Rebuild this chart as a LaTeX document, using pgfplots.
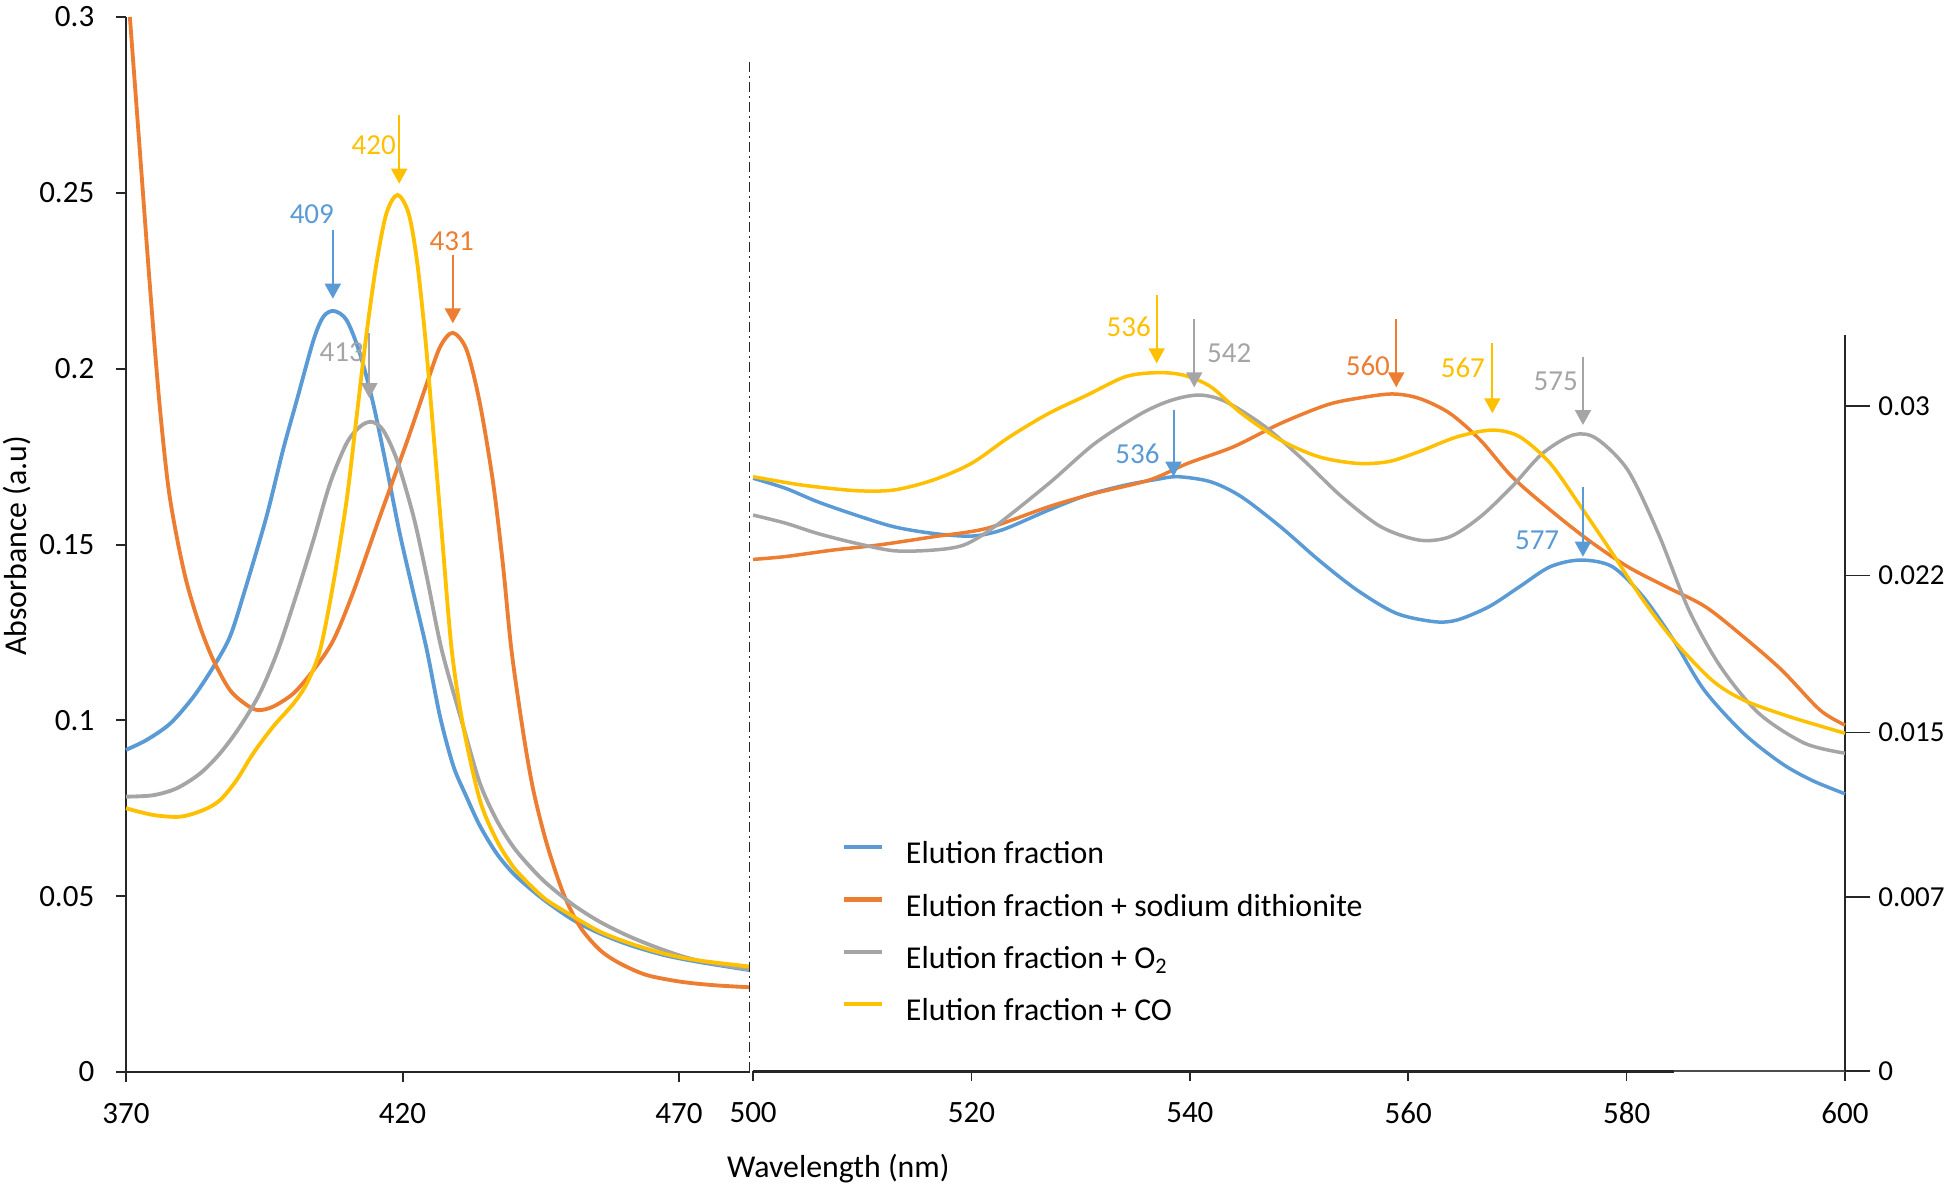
\documentclass[border=0pt]{standalone}
\usepackage{fontspec}
\setmainfont{Carlito}
\usepackage{pgfplots}
\pgfplotsset{compat=1.18}
\usetikzlibrary{arrows.meta}
\definecolor{cblue}{RGB}{91,155,213}
\definecolor{corange}{RGB}{237,125,49}
\definecolor{cgray}{RGB}{165,165,165}
\definecolor{cyellow}{RGB}{255,192,0}
\newcommand{\fs}{\fontsize{9.3}{11}\selectfont}
\newcommand{\fl}{\fontsize{9.55}{11}\selectfont}
\newcommand{\fa}{\fontsize{8.7}{10}\selectfont}
\tikzset{pk/.style={-{Triangle[width=4.8pt,length=4.5pt]}, line width=0.6pt}}
\begin{document}
\begin{tikzpicture}
\useasboundingbox (-37.8pt,-35.4pt) rectangle (547.2pt,321.6pt);
\pgfplotsset{every axis/.append style={font=\fs},
  /pgf/number format/assume math mode=true}
% ---------------- left panel ----------------
\begin{axis}[name=L, at={(0pt,0pt)}, anchor=south west, scale only axis,
  width=187.05pt, height=316.5pt,
  xmin=370, xmax=482.75, ymin=0, ymax=0.3,
  axis x line=bottom, axis y line=left,
  axis line style={-, line width=0.6pt, black!85},
  tick align=outside, major tick length=3pt,
  tick style={line width=0.6pt, black!85},
  xtick={370,420,470}, xticklabels={370,420,470},
  ytick={0,0.05,0.1,0.15,0.2,0.25,0.3},
  yticklabels={0,0.05,0.1,0.15,0.2,0.25,0.3},
  xticklabel style={yshift=-3pt}, yticklabel style={xshift=-3pt},
  clip=false]
\addplot[cblue, line width=1.15pt, smooth] coordinates {
(370,0.0916) (373.7,0.0944) (378,0.0991) (382.2,0.1067) (385.8,0.1152) (388.8,0.1238)
(391.5,0.137) (395.4,0.1579) (398.4,0.1769) (400.9,0.1911) (403.9,0.2081) (405.7,0.2148)
(407.6,0.2164) (409.9,0.2138) (412.3,0.2043) (414.7,0.1901) (417.1,0.1721) (419.5,0.1532)
(422,0.1361) (424.4,0.12) (426.8,0.101) (429.2,0.087) (431.5,0.0785) (434,0.0700)
(437,0.0622) (440,0.0565) (443.05,0.0522) (446.07,0.0484) (450.9,0.0432) (455.7,0.0394)
(461.1,0.0361) (467.2,0.0333) (473.2,0.0314) (482.7,0.0290)};
\addplot[corange, line width=1.15pt, smooth] coordinates {
(370.7,0.3) (372.5,0.262) (374.3,0.224) (376.0,0.191) (377.6,0.167) (379.2,0.152)
(381.0,0.139) (383.4,0.1266)
(385.8,0.1171) (388.8,0.1086) (391.8,0.1044) (393.9,0.1029) (396.6,0.1039) (400.3,0.1077)
(403.9,0.1143) (407.5,0.1228) (411.1,0.1365) (415.9,0.1579) (420.7,0.1788) (424.4,0.1958)
(426.8,0.2062) (429.1,0.2102) (431.6,0.2053) (434,0.1901) (436.4,0.1674) (438.2,0.1437)
(439.7,0.12) (441.85,0.0963) (443.65,0.0802) (446.07,0.065) (449.08,0.0508) (452.1,0.0413)
(455.7,0.0347) (459.3,0.0309) (464.1,0.0276) (470.2,0.0257) (476.2,0.0247) (482.7,0.0241)};
\addplot[cgray, line width=1.15pt, smooth] coordinates {
(370,0.0783) (374.9,0.0787) (379.2,0.0807) (383.4,0.0849) (387,0.0906) (390.6,0.0982)
(394.2,0.1077) (397.5,0.12) (400.9,0.1361) (403.9,0.1513) (406.9,0.1674) (409.9,0.1788)
(412.3,0.1835) (414.4,0.1849) (416.5,0.1825) (419,0.174) (422,0.1579) (424.4,0.1408)
(427.1,0.12) (431,0.0982) (434,0.0821) (437,0.0717) (440,0.0641) (443.05,0.0584)
(446.07,0.0536) (450.9,0.0475) (455.7,0.0427) (461.1,0.0385) (467.2,0.0347) (473.2,0.0318)
(482.7,0.0292)};
\addplot[cyellow, line width=1.15pt, smooth] coordinates {
(370,0.075) (374.9,0.0731) (379.8,0.0726) (384,0.0745) (387,0.0773) (390,0.083)
(393,0.0906) (396.6,0.0982) (400.3,0.1048) (402.7,0.1105) (405.1,0.12) (407.5,0.139)
(409.9,0.1626) (411.7,0.1863) (413.5,0.21) (415.3,0.23) (417.1,0.2442) (419.1,0.2494)
(421.1,0.2442) (422.6,0.2309) (424.1,0.2091) (425.6,0.1816) (427.1,0.1532) (428.9,0.12)
(431,0.0982) (434,0.0773) (437,0.066) (440,0.0584) (443.05,0.0532) (446.07,0.0489)
(450.9,0.0442) (455.7,0.0399) (461.1,0.0366) (467.2,0.0337) (473.2,0.0318) (482.7,0.0300)};
% peak markers
\draw[pk, cyellow] (axis cs:419.4,0.2722) -- (axis cs:419.4,0.2526);
\draw[pk, cblue] (axis cs:407.4,0.2395) -- (axis cs:407.4,0.2199);
\draw[pk, corange] (axis cs:429.1,0.2324) -- (axis cs:429.1,0.2129);
\draw[pk, cgray] (axis cs:414.0,0.2101) -- (axis cs:414.0,0.1916);
\node[text=cyellow, font=\fa] at (axis cs:414.8,0.2635) {420};
\node[text=cblue, font=\fa] at (axis cs:403.6,0.2439) {409};
\node[text=corange, font=\fa] at (axis cs:428.9,0.2363) {431};
\node[text=cgray, font=\fa] at (axis cs:409.0,0.2047) {413};
% separator
\draw[black!85, line width=0.4pt, dash pattern=on 3pt off 1.2pt on 0.6pt off 1.2pt]
  (axis cs:482.75,0) -- (axis cs:482.75,0.2875);
\end{axis}
% ---------------- right panel ----------------
\begin{axis}[name=R, at={(188.13pt,0.3pt)}, anchor=south west, scale only axis,
  width=327.57pt, height=220.8pt,
  xmin=500, xmax=600, ymin=0, ymax=0.033188,
  axis x line=bottom, axis y line=right,
  x axis line style={-, line width=0.4pt, black!70},
  y axis line style={-, line width=0.5pt, black!85},
  tick align=outside, major tick length=3pt,
  tick style={line width=0.5pt, black!85},
  ytick style={/pgfplots/major tick length=7.4pt},
  xtick={500,520,540,560,580,600}, xticklabels={500,520,540,560,580,600},
  ytick={0,0.00786,0.01527,0.02234,0.03},
  yticklabels={0,0.007,0.015,0.022,0.03},
  xticklabel style={yshift=-3pt},
  yticklabel style={xshift=3.5pt, font=\fontsize{8.7}{10}\selectfont},
  clip=false,
  legend style={draw=none, fill=none, at={(0.0817,0.3176)}, anchor=north west,
    inner sep=0pt, outer sep=0pt, row sep=4.7pt, column sep=5.6pt,
    nodes={inner sep=1pt, text height=7pt, text depth=2pt}, font=\fl},
  legend cell align=left,
  legend image code/.code={\draw[#1, line width=1.3pt] (0pt,2.5pt) -- (11.2pt,2.5pt);}]
\addplot[black!85, line width=0.9pt, forget plot] coordinates {(500,0) (584.3,0)};
\addplot[cblue, line width=1.05pt, smooth] coordinates {
(500,0.02673) (503,0.02627) (505.9,0.02567) (509.4,0.02507) (512.9,0.02454) (516.5,0.02424)
(520,0.02412) (522.8,0.0244) (527.1,0.0253) (530.6,0.02597) (534.1,0.02642) (537,0.02668)
(538.9,0.0268) (541.9,0.02657) (544.7,0.0259) (548.3,0.02454) (551.8,0.02304) (555.3,0.02169)
(558.9,0.02064) (562.4,0.02026) (564.5,0.02034) (567.4,0.02094) (570.2,0.02184) (573,0.02274)
(575.8,0.02304) (578.7,0.02274) (581.5,0.02139) (584.3,0.01943) (587.1,0.01718) (590.7,0.01523)
(594.2,0.01387) (597,0.0131) (600,0.0125)};
\addlegendentry{Elution fraction}
\addplot[corange, line width=1.05pt, smooth] coordinates {
(500,0.02307) (503,0.0232) (507.3,0.02349) (511.5,0.02372) (516.5,0.02409) (521.4,0.02447)
(527.1,0.02545) (531.3,0.02605) (536.3,0.02665) (539.8,0.0274) (544,0.02815) (548.3,0.0292)
(552.5,0.03003) (555.3,0.03033) (558.5,0.03053) (561,0.03033) (563.8,0.02966) (566.6,0.02845)
(569.5,0.0268) (573,0.0253) (576.5,0.02394) (580.1,0.02274) (583.6,0.02184) (587.2,0.02094)
(590.7,0.01958) (594.2,0.01808) (597.7,0.01628) (600,0.0156)};
\addlegendentry{Elution fraction + sodium dithionite}
\addplot[cgray, line width=1.05pt, smooth] coordinates {
(500,0.02507) (503,0.0247) (505.9,0.02424) (509.4,0.0238) (512.9,0.02346) (516.5,0.02349)
(519.3,0.02372) (522.1,0.02454) (527.1,0.0265) (531.3,0.0283) (535.6,0.02966) (538.4,0.03026)
(540.9,0.03048) (543.3,0.03018) (546.9,0.02905) (550.4,0.02755) (553.9,0.0259) (557.5,0.02454)
(561,0.02394) (563.8,0.02409) (566.6,0.02499) (569.5,0.02635) (572.3,0.02785) (575.1,0.02868)
(577.2,0.02853) (580.1,0.0271) (582.9,0.02424) (585.7,0.02079) (588.6,0.01823) (592.1,0.01613)
(596.3,0.01478) (600,0.01433)};
\addlegendentry{Elution fraction + O\textsubscript{2}}
\addplot[cyellow, line width=1.05pt, smooth] coordinates {
(500,0.0268) (504.5,0.02642) (509.4,0.02617) (512.9,0.0262) (516.5,0.02665) (520,0.0274)
(523.5,0.0286) (527.1,0.02966) (530.6,0.03048) (534.1,0.03131) (537,0.03149) (539.4,0.03138)
(541.9,0.03086) (544.7,0.02966) (548.3,0.02845) (551.8,0.0277) (555.3,0.0274) (558.2,0.02748)
(561,0.02793) (564.5,0.0286) (567.7,0.0289) (570.2,0.0286) (573,0.0274) (575.8,0.02545)
(578.7,0.02334) (581.5,0.02124) (584.3,0.01943) (587.8,0.01763) (590.7,0.01673) (594.9,0.01598)
(600,0.01523)};
\addlegendentry{Elution fraction + CO}
% peak markers
\draw[pk, cyellow] (axis cs:536.96,0.03499) -- (axis cs:536.96,0.03191);
\draw[pk, cgray] (axis cs:540.4,0.0339) -- (axis cs:540.4,0.03083);
\draw[pk, corange] (axis cs:558.9,0.0339) -- (axis cs:558.9,0.03083);
\draw[pk, cyellow] (axis cs:567.7,0.03281) -- (axis cs:567.7,0.02966);
\draw[pk, cgray] (axis cs:576.0,0.03221) -- (axis cs:576.0,0.02913);
\draw[pk, cblue] (axis cs:538.5,0.0298) -- (axis cs:538.5,0.0268);
\draw[pk, cblue] (axis cs:576.0,0.02635) -- (axis cs:576.0,0.02319);
\node[text=cyellow, font=\fa] at (axis cs:534.4,0.03356) {536};
\node[text=cgray, font=\fa] at (axis cs:543.6,0.03236) {542};
\node[text=corange, font=\fa] at (axis cs:556.3,0.03179) {560};
\node[text=cyellow, font=\fa] at (axis cs:565.0,0.03169) {567};
\node[text=cgray, font=\fa] at (axis cs:573.5,0.03108) {575};
\node[text=cblue, font=\fa] at (axis cs:535.2,0.02785) {536};
\node[text=cblue, font=\fa] at (axis cs:571.8,0.02394) {577};
\end{axis}
% axis titles
\node[rotate=90, font=\fl] at (-32.6pt,157.8pt) {Absorbance (a.u)};
\node[font=\fl] at (213.7pt,-29.1pt) {Wavelength (nm)};
\end{tikzpicture}
\end{document}
